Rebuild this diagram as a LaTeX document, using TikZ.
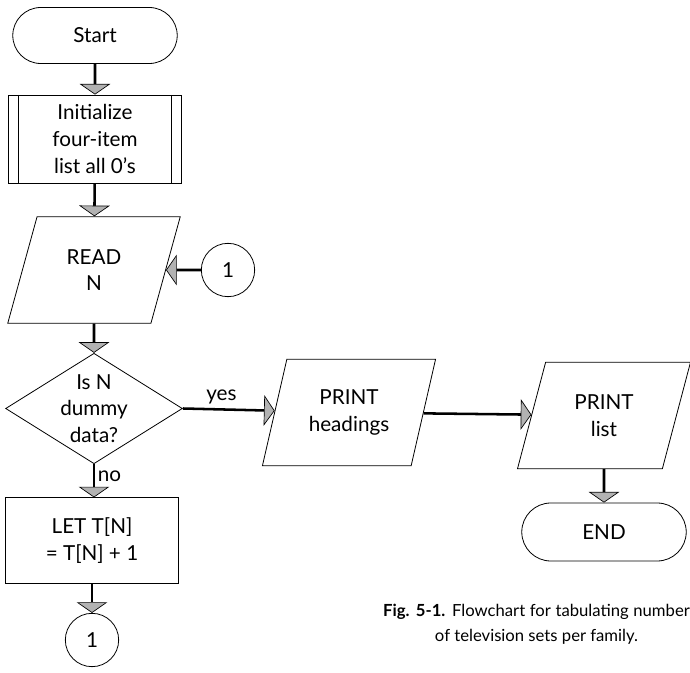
\documentclass[tikz,border=0pt]{standalone}
\usepackage{fontspec}
\setmainfont{Lato}
\usetikzlibrary{shapes.geometric,shapes.misc,arrows.meta}

\begin{document}
\begin{tikzpicture}[x=0.75pt,y=0.75pt,yscale=-1,xscale=1,
  every node/.style={font=\fontsize{15.5}{20}\selectfont},
  flow/.style={line width=1.9pt,-{Triangle[width=23pt,length=8pt,fill=gray!60,line width=0.5pt]}},
  term/.style={draw,line width=0.6pt,rounded rectangle,minimum width=130pt,minimum height=42pt},
  procbox/.style={draw,line width=0.6pt,rectangle,minimum width=130pt,align=center},
  subproc/.style={procbox,path picture={
    \draw[line width=0.6pt] ([xshift=7.5pt]path picture bounding box.north west) -- ([xshift=7.5pt]path picture bounding box.south west)
      ([xshift=-7.5pt]path picture bounding box.north east) -- ([xshift=-7.5pt]path picture bounding box.south east);}},
  iobox/.style={draw,line width=0.6pt,trapezium,trapezium left angle=72,trapezium right angle=108,
    trapezium stretches=true,minimum width=130pt,minimum height=80pt,align=center},
  decide/.style={draw,line width=0.6pt,diamond,aspect=1.6,inner sep=0pt,minimum width=130pt,minimum height=80pt,align=center},
  conn/.style={draw,line width=0.6pt,circle,minimum size=40pt,inner sep=0pt}]
\useasboundingbox (0,0) rectangle (690,673);
\node[term] (start) at (95,35.5) {Start};
\node[subproc,minimum height=66pt] (init) at (95,139) {Initialize\\four-item\\list all 0's};
\node[iobox] (read) at (94,270) {READ\\N};
\node[conn] (c1) at (228,270) {1};
\node[decide] (dummy) at (94,408.5) {Is N\\dummy\\data?};
\node[procbox,minimum height=64pt] (let) at (92,540.5) {LET T[N]\\= T[N] + 1};
\node[conn] (c2) at (92,640) {1};
\node[iobox] (heads) at (349,412.5) {PRINT\\headings};
\node[iobox] (list) at (604,415.5) {PRINT\\list};
\node[term,minimum height=43.5pt] (stop) at (604,532) {END};
\node[font=\fontsize{12.5}{19}\selectfont,align=center,inner sep=0pt] (caption) at (536.5,624)
  {\makebox[230pt][s]{\textbf{Fig. 5-1.} Flowchart for tabulating number}\\of television sets per family.};
\draw[flow] (start) -- (init);
\draw[flow] (init) -- (read);
\draw[flow] (c1) -- (read);
\draw[flow] (read) -- (dummy);
\draw[flow] (dummy.east) -- node[above,pos=0.42] (yeslbl) {yes} (heads);
\draw[flow] (dummy) -- node[right,pos=0.35,inner sep=2pt] (nolbl) {no} (dummy |- let.north);
\draw[flow] (let) -- (c2);
\draw[flow] (heads) -- (list);
\draw[flow] (list) -- (stop);
\end{tikzpicture}
\end{document}
